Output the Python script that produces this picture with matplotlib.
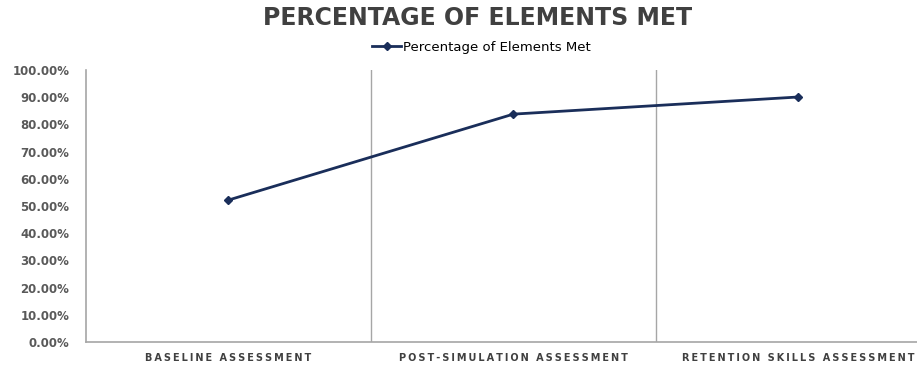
import matplotlib.pyplot as plt
from matplotlib.ticker import PercentFormatter

# assessment stages and score for each
stages = ["BASELINE ASSESSMENT", "POST-SIMULATION ASSESSMENT", "RETENTION SKILLS ASSESSMENT"]
pct_met = [52.2, 83.8, 90.1]
series_name = "Percentage of Elements Met"

navy = "#1a2e5a"
grey_txt = "#595959"
grey_line = "#a6a6a6"


def spaced(s):
    # widen category captions with thin spaces between letters
    return "\u2009".join(s)


fig = plt.figure(figsize=(9.17, 3.65), dpi=100)
ax = fig.add_axes([0.0938, 0.063, 0.932, 0.745])

x = list(range(len(stages)))
ax.plot(x, pct_met, color=navy, lw=2.0, marker="D", markersize=4,
        label=series_name)

# dividers between categories
for b in [0.5, 1.5]:
    ax.axvline(b, color=grey_line, lw=1.0, zorder=0)

ax.set_xlim(-0.5, 2.5)
ax.set_ylim(0, 100)
ax.set_yticks(range(0, 101, 10))
ax.yaxis.set_major_formatter(PercentFormatter(decimals=2))
ax.set_xticks(x)
ax.set_xticklabels([spaced(s) for s in stages])
ax.tick_params(axis="y", length=0, pad=12, labelsize=8.5, labelcolor=grey_txt)
ax.tick_params(axis="x", length=0, pad=8, labelsize=7, labelcolor="#404040")
for lbl in ax.get_yticklabels() + ax.get_xticklabels():
    lbl.set_fontweight("bold")

for s in ["top", "right"]:
    ax.spines[s].set_visible(False)
for s in ["left", "bottom"]:
    ax.spines[s].set_color(grey_line)
    ax.spines[s].set_linewidth(1.2)

fig.text(0.521, 0.95, "PERCENTAGE OF ELEMENTS MET", ha="center", va="center",
         fontsize=17, fontweight="bold", color="#404040")
ax.legend(loc="center", bbox_to_anchor=(0.525, 0.871), bbox_transform=fig.transFigure,
          frameon=False, handlelength=2.2, handletextpad=0.1,
          prop={"weight": "normal", "size": 9.5})

fig.savefig("out.png", dpi=100)
